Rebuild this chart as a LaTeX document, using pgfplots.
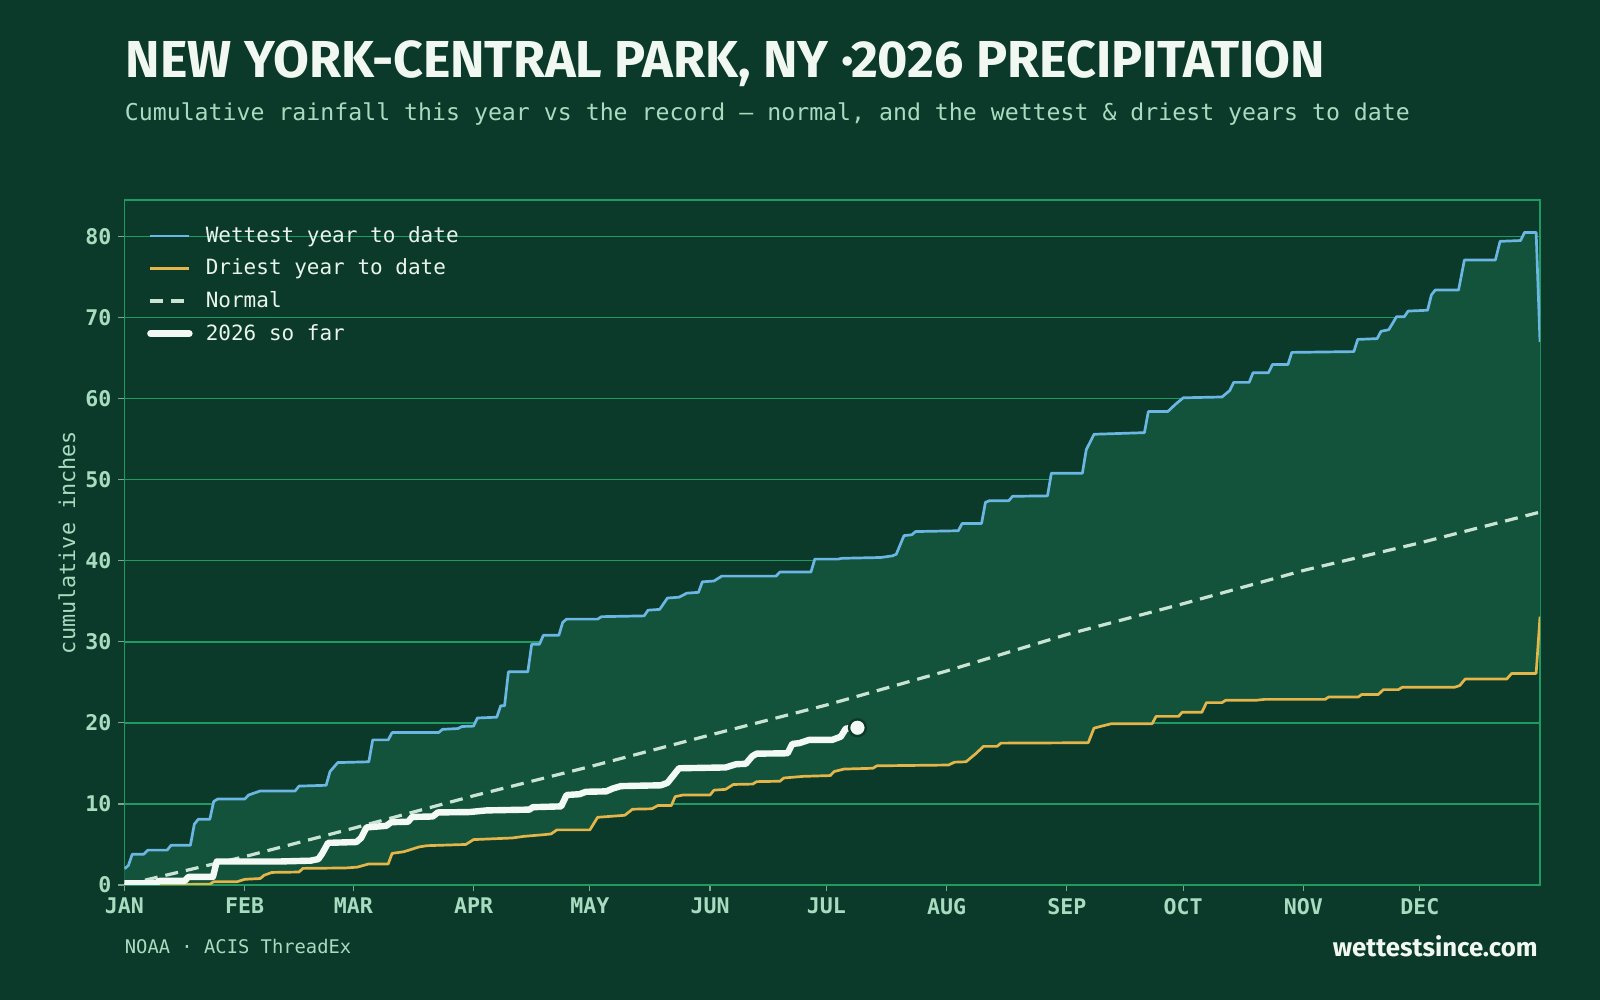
\documentclass[border=0pt]{standalone}
\usepackage{fontspec}
\setmainfont{DejaVu Sans Mono}
\newfontfamily\titlefont{Fira Sans}
\newfontfamily\monofont{DejaVu Sans Mono}
\usepackage{xcolor}
\usepackage{pgfplots}
\pgfplotsset{compat=1.18}
\usepgfplotslibrary{fillbetween}

\definecolor{bg}{HTML}{0C3A2A}
\definecolor{band}{HTML}{13533B}
\definecolor{gridc}{HTML}{1F9A63}
\definecolor{mint}{HTML}{A8DCC0}
\definecolor{tickc}{HTML}{7FA590}
\definecolor{wetc}{HTML}{6CB6E4}
\definecolor{dryc}{HTML}{E3B54A}
\definecolor{normc}{HTML}{C9E4D2}
\definecolor{nowc}{HTML}{F3F9F5}
\definecolor{titlec}{HTML}{F1F8F2}
\definecolor{legtext}{HTML}{E8F4EC}

\pagecolor{bg}

\begin{document}
\begin{tikzpicture}
% page frame
\path (-62.25pt,-57.5pt) rectangle (737.75pt,442.5pt);

\begin{axis}[
  at={(0pt,0pt)}, anchor=south west,
  scale only axis, width=707.75pt, height=342.5pt,
  xmin=0, xmax=365, ymin=0, ymax=84.5,
  axis line style={gridc, line width=0.7pt},
  xtick={0,31,59,90,120,151,181,212,243,273,304,334},
  xticklabels={JAN,FEB,MAR,APR,MAY,JUN,JUL,AUG,SEP,OCT,NOV,DEC},
  ytick={0,10,...,80},
  xtick pos=bottom, ytick pos=left,
  ymajorgrids, grid style={gridc, line width=0.7pt, /pgfplots/on layer=main},
  tick align=outside, major tick length=3pt,
  tick style={tickc, line width=0.6pt},
  ticklabel style={font=\monofont\bfseries\fontsize{10.8}{12}\selectfont, text=mint},
  /pgf/number format/assume math mode=true,
  ylabel={cumulative inches},
  ylabel style={at={(axis description cs:-0.0406,0.5)}, anchor=center,
                font=\monofont\fontsize{10.9}{12}\selectfont, text=mint},
  legend image code/.code={\draw[#1] (0pt,0pt) -- (19.5pt,0pt);},
  legend cell align=left,
  legend style={at={(axis description cs:0,1)}, anchor=north west,
                xshift=8.15pt, yshift=-9pt,
                draw=none, fill=none,
                font=\monofont\fontsize{10.5}{12}\selectfont, text=legtext,
                row sep=2.8pt,
                /tikz/every odd column/.append style={column sep=4.6pt}},
]

% wettest year to date
\addplot[name path=wet, wetc, line width=1.35pt, line join=round] coordinates {
(0,2.0) (1,2.4) (2,3.8) (5,3.8) (6,4.3) (11,4.3) (12,4.9) (17,4.9) (18,7.5) (19,8.1)
(22,8.1) (23,10.3) (24,10.6) (31,10.6) (32,11.1) (35,11.6) (44,11.6) (45,12.2) (52,12.3)
(53,14.0) (55,15.1) (63,15.2) (64,17.9) (68,17.9) (69,18.8) (81,18.8) (82,19.2) (86,19.3)
(87,19.55) (90,19.6) (91,20.6) (96,20.7) (97,22.1) (98,22.1) (99,26.3) (104,26.3)
(105,29.7) (107,29.7) (108,30.8) (112,30.8) (113,32.4) (114,32.8) (122,32.8) (123,33.1)
(134,33.2) (135,33.9) (138,34.0) (140,35.4) (143,35.5) (145,36.0) (148,36.1) (149,37.4)
(152,37.5) (154,38.1) (168,38.1) (169,38.6) (177,38.6) (178,40.2) (184,40.2) (185,40.3)
(195,40.4) (198,40.6) (199,40.8) (201,43.1) (203,43.2) (204,43.6) (215,43.7) (216,44.6)
(221,44.6) (222,47.2) (223,47.4) (228,47.4) (229,47.95) (238,48.0) (239,50.8) (247,50.8)
(248,53.7) (250,55.6) (263,55.8) (264,58.4) (269,58.4) (271,59.3) (273,60.1) (283,60.2)
(285,61.0) (286,62.0) (290,62.0) (291,63.2) (295,63.2) (296,64.2) (300,64.2) (301,65.7)
(317,65.8) (318,67.3) (323,67.4) (324,68.3) (326,68.5) (328,70.1) (330,70.1) (331,70.8)
(336,70.9) (337,72.8) (338,73.4) (344,73.4) (345.5,77.1) (353.5,77.1) (354.7,79.4)
(360,79.5) (361,80.5) (364,80.5) (365,67.0)
};
\addlegendentry{Wettest year to date}

% driest year to date
\addplot[name path=dry, dryc, line width=1.35pt, line join=round] coordinates {
(0,0.0) (22,0.1) (23,0.4) (29,0.4) (31,0.7) (35,0.8) (36,1.2) (38,1.55) (45,1.6) (46,2.05)
(57,2.1) (60,2.2) (63,2.6) (68,2.6) (69,3.9) (72,4.1) (74,4.4) (76,4.7) (78,4.85) (88,5.0)
(90,5.6) (100,5.8) (103,6.0) (108,6.2) (110,6.3) (111.5,6.8) (120,6.8) (122,8.35) (129,8.6)
(131,9.35) (136,9.4) (137.5,9.8) (141,9.8) (142,10.9) (144,11.1) (151,11.1) (152,11.7)
(155,11.8) (157,12.4) (162,12.45) (163,12.75) (169,12.8) (170,13.2) (175,13.4) (182,13.5)
(183,14.0) (185.5,14.3) (193,14.4) (194,14.7) (212.5,14.8) (214,15.15) (217,15.2)
(218,15.6) (219.5,16.2) (221.5,17.1) (225,17.1) (226,17.5) (248.5,17.55) (250,19.35)
(252,19.6) (254.5,19.9) (265,19.9) (266,20.8) (271.8,20.8) (272.7,21.3) (277.8,21.3)
(279,22.5) (283,22.5) (284,22.8) (292,22.8) (294,22.9) (309.6,22.9) (310.5,23.2)
(318.2,23.2) (319,23.5) (323.3,23.5) (324.6,24.1) (328.5,24.1) (329.5,24.4) (343,24.4)
(344.3,24.6) (345.7,25.4) (356.4,25.4) (357.7,26.1) (364,26.1) (365,33.1)
};
\addlegendentry{Driest year to date}

% range between the two records
\addplot[band, forget plot] fill between[of=wet and dry];

% normal
\addplot[normc, line width=1.6pt, dash pattern=on 6.5pt off 4pt] coordinates {
(0,0) (31,3.5) (59,7.0) (90,11.0) (120,14.6) (151,18.5) (181,22.2) (212,26.4)
(243,30.9) (273,34.7) (304,38.8) (334,42.2) (365,46.0)
};
\addlegendentry{Normal}

% this year
\addplot[nowc, line width=3.2pt, line join=round, line cap=round] coordinates {
(0,0.2) (8,0.2) (9,0.5) (15.5,0.5) (16.5,1.0) (22.8,1.0) (23.8,2.9) (40,2.9) (48,3.0)
(50,3.2) (51,3.9) (52.5,5.2) (59.8,5.3) (61,5.8) (62.4,7.1) (67.5,7.3) (68.8,7.75)
(73.1,7.8) (74.2,8.4) (79.5,8.45) (80.8,8.95) (89,9.0) (93.3,9.2) (104.4,9.3) (105.3,9.6)
(112.6,9.7) (114,11.1) (117.3,11.2) (119,11.5) (124.2,11.55) (125.9,11.9) (128,12.2)
(138.3,12.3) (140,12.6) (143,14.4) (155,14.5) (157.7,14.9) (160.2,14.95) (161.9,15.9)
(163,16.2) (171,16.25) (172.2,17.4) (174,17.5) (176.5,17.9) (182.5,17.9) (184.7,18.3)
(186,19.3) (189,19.4)
};
\addlegendentry{2026 so far}

% latest reading
\addplot[only marks, mark=*, mark size=4.2pt, forget plot,
         mark options={fill=nowc, draw=bg, line width=1.2pt}] coordinates {(189,19.4)};

\end{axis}

% headings and footer
\node[anchor=base west, inner sep=0pt, text=titlec,
      font=\titlefont\bfseries\fontsize{26}{30}\selectfont] at (0.5pt,403.5pt)
  {NEW YORK-CENTRAL PARK, NY ·2026 PRECIPITATION};
\node[anchor=base west, inner sep=0pt, text=mint,
      font=\monofont\fontsize{11.6}{14}\selectfont] at (0pt,382.25pt)
  {Cumulative rainfall this year vs the record — normal, and the wettest \& driest years to date};
\node[anchor=base west, inner sep=0pt, text=mint,
      font=\monofont\fontsize{9.4}{12}\selectfont] at (0pt,-34.5pt)
  {NOAA · ACIS ThreadEx};
\node[anchor=base east, inner sep=0pt, text=titlec,
      font=\titlefont\bfseries\fontsize{12.9}{16}\selectfont] at (706.75pt,-35.8pt)
  {wettestsince.com};
\end{tikzpicture}
\end{document}
